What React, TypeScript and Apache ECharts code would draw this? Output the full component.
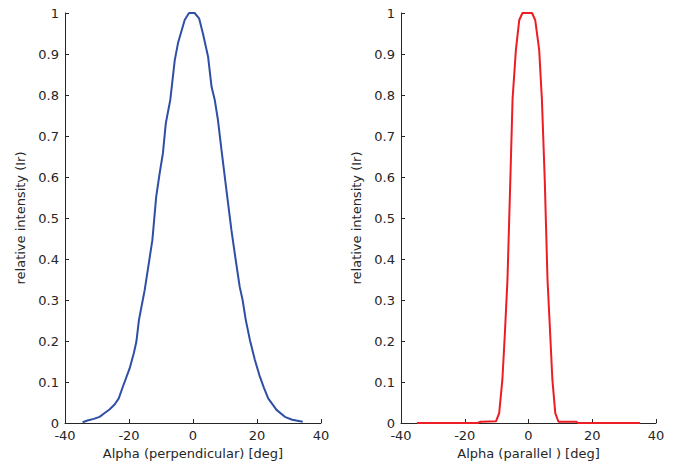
import React, { useEffect, useRef } from "react";
import * as echarts from "echarts";

const perpX = [-34.5, -33, -31, -29.2, -27.5, -26.1, -24.5, -23.2, -21.9, -19.8, -18.5, -17.7, -16.9, -15.7, -15.1, -13.8, -12.7, -11.5, -10.4, -9.4, -8.5, -7.1, -5.7, -4.7, -2.6, -1.25, 0.5, 1.9, 3.1, 4.7, 5.8, 6.8, 7.8, 8.9, 10.7, 12.0, 13.3, 14.6, 15.5, 16.5, 17.8, 19.3, 20.9, 22.2, 23.5, 26.1, 28.7, 31, 34.3];
const perpY = [0.002, 0.006, 0.01, 0.015, 0.025, 0.033, 0.045, 0.06, 0.089, 0.133, 0.17, 0.198, 0.251, 0.3, 0.324, 0.39, 0.446, 0.552, 0.61, 0.658, 0.731, 0.788, 0.885, 0.926, 0.983, 1.0, 1.0, 0.987, 0.95, 0.894, 0.82, 0.788, 0.739, 0.666, 0.552, 0.471, 0.4, 0.332, 0.3, 0.251, 0.202, 0.155, 0.113, 0.085, 0.06, 0.032, 0.015, 0.008, 0.003];

const paraX = [-35, -25, -16, -15, -10.2, -9.2, -8.2, -7.4, -6.6, -5.7, -5.0, -3.95, -2.9, -1.9, 1.1, 2.1, 3.35, 4.2, 5.1, 5.96, 6.6, 7.5, 8.4, 9.4, 15, 15.5, 25, 35];
const paraY = [0, 0, 0, 0.003, 0.004, 0.024, 0.105, 0.22, 0.349, 0.593, 0.79, 0.91, 0.983, 1.0, 1.0, 0.983, 0.91, 0.79, 0.593, 0.35, 0.25, 0.105, 0.024, 0.003, 0.003, 0, 0, 0];

const xTicks = [-40, -20, 0, 20, 40];
const xNames = ["Alpha (perpendicular) [deg]", "Alpha (parallel ) [deg]"];
const yName = "relative intensity (Ir)";

const FONT = "DejaVu Sans";
const AXIS_COLOR = "#262626";

export default function App() {
  const ref = useRef<HTMLDivElement>(null);
  useEffect(() => {
    if (!ref.current) return;
    const chart = echarts.init(ref.current, null, { renderer: "svg" });
    const axisCommon = {
      axisLine: { show: true, onZero: false, lineStyle: { color: AXIS_COLOR, width: 1 } },
      axisTick: { show: true, inside: true, length: 4, lineStyle: { color: AXIS_COLOR } },
      axisLabel: { color: AXIS_COLOR, fontFamily: FONT, fontSize: 13, margin: 6 },
      splitLine: { show: false },
      nameTextStyle: { color: AXIS_COLOR, fontFamily: FONT, fontSize: 13 },
    };
    const mkX = (i: number) => ({
      ...axisCommon,
      type: "value",
      gridIndex: i,
      min: xTicks[0],
      max: xTicks[xTicks.length - 1],
      interval: 20,
      name: xNames[i],
      nameLocation: "middle",
      nameGap: 23,
    });
    const mkY = (i: number) => ({
      ...axisCommon,
      type: "value",
      gridIndex: i,
      min: 0,
      max: 1,
      interval: 0.1,
      name: yName,
      nameLocation: "middle",
      nameGap: 38,
    });
    chart.setOption({
      animation: false,
      backgroundColor: "#ffffff",
      grid: [
        { left: 65, top: 13, width: 256, height: 410 },
        { left: 401, top: 13, width: 255, height: 410 },
      ],
      xAxis: [mkX(0), mkX(1)],
      yAxis: [mkY(0), mkY(1)],
      series: [
        {
          type: "line",
          xAxisIndex: 0,
          yAxisIndex: 0,
          data: perpX.map((x, i) => [x, perpY[i]]),
          showSymbol: false,
          lineStyle: { color: "#2f4ea6", width: 2 },
        },
        {
          type: "line",
          xAxisIndex: 1,
          yAxisIndex: 1,
          data: paraX.map((x, i) => [x, paraY[i]]),
          showSymbol: false,
          lineStyle: { color: "#ee1c25", width: 2 },
        },
      ],
    });
    return () => chart.dispose();
  }, []);
  return <div ref={ref} style={{ width: 694, height: 470, position: "absolute", left: 0, top: 0 }} />;
}
